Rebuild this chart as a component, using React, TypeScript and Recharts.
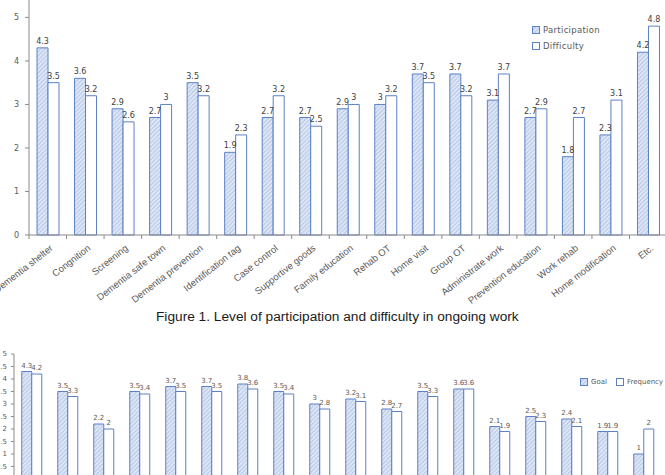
import React from "react";
import { BarChart, Bar, XAxis, YAxis, LabelList } from "recharts";

// Figure 1 (top): participation vs difficulty in ongoing work
const workCategories = [
  "Dementia shelter",
  "Congnition",
  "Screening",
  "Dementia safe town",
  "Dementia prevention",
  "Identification tag",
  "Case control",
  "Supportive goods",
  "Family education",
  "Rehab OT",
  "Home visit",
  "Group OT",
  "Administrate work",
  "Prevention education",
  "Work rehab",
  "Home modification",
  "Etc.",
];
const participation = [4.3, 3.6, 2.9, 2.7, 3.5, 1.9, 2.7, 2.7, 2.9, 3, 3.7, 3.7, 3.1, 2.7, 1.8, 2.3, 4.2];
const difficulty = [3.5, 3.2, 2.6, 3, 3.2, 2.3, 3.2, 2.5, 3, 3.2, 3.5, 3.2, 3.7, 2.9, 2.7, 3.1, 4.8];
const topTicks = [0, 1, 2, 3, 4, 5];

// second chart (cut off at the bottom of the page): goal vs frequency
const goalCategories = ["1", "2", "3", "4", "5", "6", "7", "8", "9", "10", "11", "12", "13", "14", "15", "16", "17", "18"];
const goal = [4.3, 3.5, 2.2, 3.5, 3.7, 3.7, 3.8, 3.5, 3, 3.2, 2.8, 3.5, 3.6, 2.1, 2.5, 2.4, 1.9, 1];
const frequency = [4.2, 3.3, 2, 3.4, 3.5, 3.5, 3.6, 3.4, 2.8, 3.1, 2.7, 3.3, 3.6, 1.9, 2.3, 2.1, 1.9, 2];
const bottomTicks = [0, 0.5, 1, 1.5, 2, 2.5, 3, 3.5, 4, 4.5, 5];

const topData = workCategories.map((name, i) => ({ name, participation: participation[i], difficulty: difficulty[i] }));
const bottomData = goalCategories.map((name, i) => ({ name, goal: goal[i], frequency: frequency[i] }));

const BLUE = "#5b80c6";
const AXIS = "#8a8a8a";
const TEXT = "#595959";
const FONT = "'DejaVu Sans', sans-serif";

function HatchDefs({ id }: { id: string }) {
  return (
    <defs>
      <pattern id={id} patternUnits="userSpaceOnUse" width="3" height="3" patternTransform="rotate(45)">
        <rect width="3" height="3" fill="#dde6f6" />
        <line x1="0" y1="0" x2="0" y2="3" stroke="#a3b7e0" strokeWidth="1.3" />
      </pattern>
    </defs>
  );
}

const TopTick = (props: any) => {
  const { x, y, payload } = props;
  return (
    <g transform={`translate(${x},${y})`}>
      <line x1={-18.75} y1={-6} x2={-18.75} y2={-2} stroke={AXIS} />
      <g transform="translate(4,6)">
        <text x={0} y={0} dy={3} textAnchor="end" transform="rotate(-38)" fontSize={9.5} fill={TEXT} fontFamily="'Liberation Sans', sans-serif">
          {payload.value}
        </text>
      </g>
    </g>
  );
};

const legendBox = (hatched: boolean) => (
  <svg width={8} height={8} style={{ marginRight: 3 }}>
    <defs>
      <pattern id="hatchLegend" patternUnits="userSpaceOnUse" width="3" height="3" patternTransform="rotate(45)">
        <rect width="3" height="3" fill="#dde6f6" />
        <line x1="0" y1="0" x2="0" y2="3" stroke="#a3b7e0" strokeWidth="1.3" />
      </pattern>
    </defs>
    <rect x={0.5} y={0.5} width={7} height={7} fill={hatched ? "url(#hatchLegend)" : "#fff"} stroke={BLUE} />
  </svg>
);

export default function App() {
  return (
    <div style={{ position: "absolute", left: 0, top: 0, width: 665, height: 475, overflow: "hidden", background: "#fff" }}>
      <div style={{ position: "absolute", left: 0, top: 0 }}>
        <BarChart width={667} height={305} data={topData} margin={{ top: 0, right: 0, bottom: 0, left: 0 }} barCategoryGap={8} barGap={0}>
          <HatchDefs id="hatchTop" />
          <XAxis dataKey="name" interval={0} height={70} axisLine={{ stroke: AXIS }} tickLine={false} tickSize={4} tickMargin={2} tick={<TopTick />} />
          <YAxis domain={[0, 5.4]} ticks={topTicks} width={29} axisLine={{ stroke: AXIS }} tickLine={{ stroke: AXIS }} tickSize={4} tickMargin={6} tick={{ fontSize: 8, fill: TEXT, fontFamily: FONT }} />
          <Bar dataKey="participation" name="Participation" fill="url(#hatchTop)" stroke={BLUE} strokeWidth={1} isAnimationActive={false}>
            <LabelList dataKey="participation" position="top" offset={4} fontSize={8} fill="#404040" fontFamily={FONT} />
          </Bar>
          <Bar dataKey="difficulty" name="Difficulty" fill="#ffffff" stroke={BLUE} strokeWidth={1} isAnimationActive={false}>
            <LabelList dataKey="difficulty" position="top" offset={4} fontSize={8} fill="#404040" fontFamily={FONT} />
          </Bar>
        </BarChart>
      </div>

      <div style={{ position: "absolute", left: 532, top: 22, fontFamily: FONT, fontSize: 8.5, color: TEXT, letterSpacing: 0.3 }}>
        <div style={{ display: "flex", alignItems: "center", height: 16 }}>
          {legendBox(true)}Participation
        </div>
        <div style={{ display: "flex", alignItems: "center", height: 16 }}>
          {legendBox(false)}Difficulty
        </div>
      </div>

      <div style={{ position: "absolute", left: 156, top: 309, fontFamily: "'Liberation Sans', sans-serif", fontSize: 13.7, color: "#1a1a1a", whiteSpace: "nowrap" }}>
        Figure 1. Level of participation and difficulty in ongoing work
      </div>

      <div style={{ position: "absolute", left: -20, top: 340 }}>
        <BarChart width={685} height={169} data={bottomData} margin={{ top: 14, right: 3, bottom: 0, left: 0 }} barCategoryGap={7.75} barGap={0}>
          <HatchDefs id="hatchBottom" />
          <XAxis dataKey="name" height={30} axisLine={{ stroke: AXIS }} tickLine={false} tick={false} />
          <YAxis domain={[0, 5]} ticks={bottomTicks} interval={0} width={34} axisLine={{ stroke: AXIS }} tickLine={{ stroke: AXIS }} tickSize={3} tickMargin={4} tick={{ fontSize: 7, fill: TEXT, fontFamily: FONT }} />
          <Bar dataKey="goal" name="Goal" fill="url(#hatchBottom)" stroke={BLUE} strokeWidth={1} isAnimationActive={false}>
            <LabelList dataKey="goal" position="top" offset={4} fontSize={7} fill={TEXT} fontFamily={FONT} />
          </Bar>
          <Bar dataKey="frequency" name="Frequency" fill="#ffffff" stroke={BLUE} strokeWidth={1} isAnimationActive={false}>
            <LabelList dataKey="frequency" position="top" offset={4} fontSize={7} fill={TEXT} fontFamily={FONT} />
          </Bar>
        </BarChart>
      </div>

      <div style={{ position: "absolute", left: 580, top: 377, fontFamily: FONT, fontSize: 7, color: TEXT, display: "flex", alignItems: "center", height: 10 }}>
        {legendBox(true)}
        <span style={{ marginRight: 9 }}>Goal</span>
        {legendBox(false)}
        <span>Frequency</span>
      </div>
    </div>
  );
}
